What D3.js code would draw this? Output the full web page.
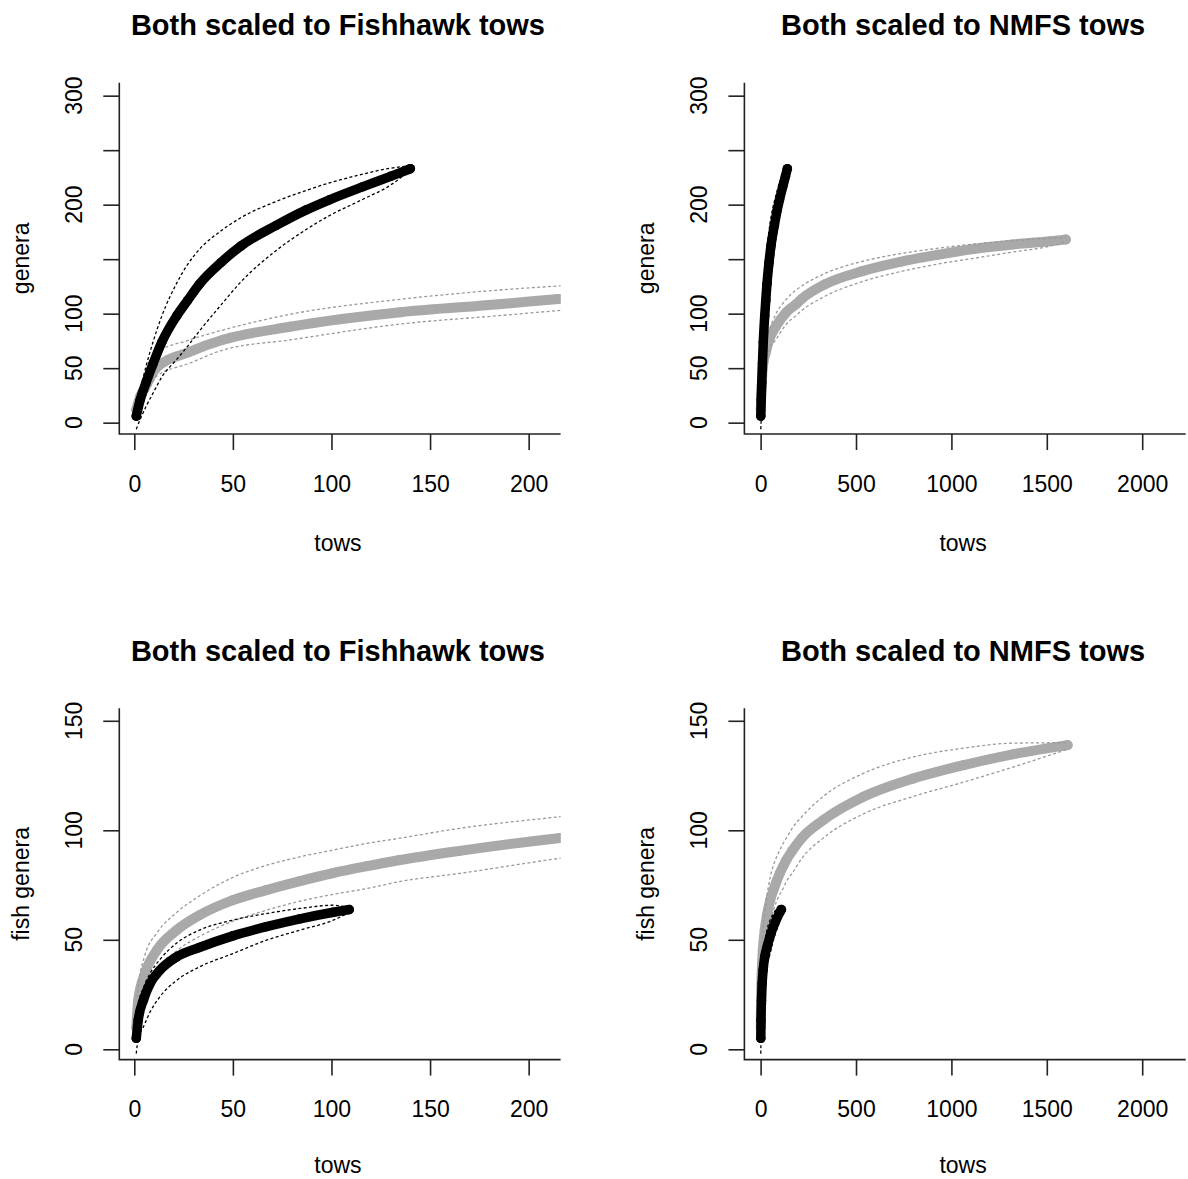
<!DOCTYPE html>
<html><head><meta charset="utf-8">
<script src="https://cdn.jsdelivr.net/npm/d3@7/dist/d3.min.js"></script>
<style>
body{margin:0;background:#fff}
svg{display:block}
text{font-family:"Liberation Sans",Arial,Helvetica,sans-serif;fill:#000}
</style>
</head><body>
<svg id="chart" width="1188" height="1179"></svg>
<script>
// ---------- data ----------
const panelTitles = ["Both scaled to Fishhawk tows", "Both scaled to NMFS tows"];
const rowYLabels = ["genera", "fish genera"];
const xAxisLabel = "tows";

const xTicksFishhawk = [0, 50, 100, 150, 200];
const xTicksNMFS = [0, 500, 1000, 1500, 2000];
const yTicksGenera = [0, 50, 100, 150, 200, 250, 300];
const yTickLabelsGenera = [0, 50, 100, 200, 300];
const yTicksFish = [0, 50, 100, 150];
const yTickLabelsFish = [0, 50, 100, 150];

// Row 1: all genera — Fishhawk (black)
const fhGeneraTows  = [1, 3, 6, 9.5, 14, 21.5, 27, 33, 44, 54, 72, 87, 99, 116, 130, 140];
const fhGeneraMean  = [6, 21, 37, 54, 74, 98, 112, 127, 147, 162, 181, 195, 204.5, 216.5, 226, 233];
const fhGeneraUpper = [14, 30, 52, 74, 98, 128, 145, 159, 176, 188, 203, 213, 220, 228, 233.5, 235.5];
const fhGeneraLower = [-6, 3, 15, 27, 42, 58, 70, 84, 108, 129, 158, 177, 190, 205, 218, 232];

// Row 1: all genera — NMFS (gray)
const nmGeneraTows  = [1, 3, 6, 11, 28, 45, 79, 135, 185, 215, 338, 534, 731, 928, 1124, 1321, 1517, 1600];
const nmGeneraMean  = [12, 24, 34, 50, 65, 76, 88, 101.3, 108.6, 113.5, 127, 139, 147.5, 154, 159.5, 163.5, 166.5, 168];
const nmGeneraUpper = [18, 32, 43, 63.7, 75.9, 85, 99.4, 113.2, 121.7, 125.4, 137, 148, 155, 160, 164, 167, 169, 169.5];
const nmGeneraLower = [6, 16, 25, 42.2, 54.5, 66.7, 75.9, 90.5, 98.2, 102.8, 116, 129.5, 138.5, 145.5, 151, 156.5, 162, 166];

// Row 2: fish genera — Fishhawk (black)
const fhFishTows  = [1, 2, 4.6, 8, 13, 21.5, 33, 50, 67, 84, 101, 109];
const fhFishMean  = [5, 13.3, 22.4, 30, 36.1, 42.2, 46.5, 51.8, 56, 59.6, 62.6, 63.8];
const fhFishUpper = [9, 20, 28, 34.6, 41, 48.5, 54.4, 59, 62, 64.3, 65.8, 64.5];
const fhFishLower = [-2, 5, 10.2, 17, 24, 31.5, 37.6, 43.7, 49.8, 54.4, 59, 62.5];

// Row 2: fish genera — NMFS (gray)
const nmFishTows  = [1, 2, 5.4, 11.4, 21.5, 33, 50, 67, 84, 101, 118, 134, 165, 216, 329, 539, 802, 1065, 1328, 1609];
const nmFishMean  = [10, 22.4, 34.6, 45.2, 54.4, 61.2, 68.1, 72.7, 76.8, 80.5, 83.6, 86.3, 90.6, 96.5, 104.7, 115.3, 123.7, 129.8, 134.8, 138.9];
const nmFishUpper = [16, 28, 43, 53, 62.5, 70, 78.5, 84, 87.9, 91, 94, 96.3, 100.9, 106.2, 115.5, 126, 133.5, 137.5, 139.8, 140];
const nmFishLower = [5, 12, 25, 36.1, 45, 51.5, 58.5, 63.5, 67.6, 70.8, 73.4, 76.5, 80.3, 87.2, 96.5, 107.5, 115.5, 122, 129, 137];

// ---------- layout ----------
const svg = d3.select("#chart");
const colLeft = [119.3, 744.4], colWidth = 441.3;
const rowTop = [82.7, 708.3], rowHeight = 351.3;
const xDomains = [[-7.6, 216.2], [-85, 2228]];
const yDomains = [[-10.4, 311.9], [-4.7, 155.7]];
const xTickSets = [xTicksFishhawk, xTicksNMFS];
const yTickSets = [yTicksGenera, yTicksFish];
const yLabelSets = [yTickLabelsGenera, yTickLabelsFish];
const xTitleOffset = [117, 113];
const rowSeries = [
  {black: [fhGeneraTows, fhGeneraMean, fhGeneraUpper, fhGeneraLower],
   gray:  [nmGeneraTows, nmGeneraMean, nmGeneraUpper, nmGeneraLower]},
  {black: [fhFishTows, fhFishMean, fhFishUpper, fhFishLower],
   gray:  [nmFishTows, nmFishMean, nmFishUpper, nmFishLower]}
];

const GRAY = "#a9a9a9", GRAY_CI = "#9a9a9a";
const tickFont = 23, labFont = 23, titleFont = 29;

let clipId = 0;
for (let r = 0; r < 2; r++) {
  for (let c = 0; c < 2; c++) {
    const L = colLeft[c], T = rowTop[r], R = L + colWidth, B = T + rowHeight;
    const x = d3.scaleLinear().domain(xDomains[c]).range([L, R]);
    const y = d3.scaleLinear().domain(yDomains[r]).range([B, T]);
    const g = svg.append("g");
    const id = "clip" + (clipId++);
    svg.append("clipPath").attr("id", id).append("rect")
      .attr("x", L).attr("y", T).attr("width", colWidth).attr("height", rowHeight);
    const plot = g.append("g").attr("clip-path", `url(#${id})`);

    const line = d3.line().x(d => x(d[0])).y(d => y(d[1])).curve(d3.curveMonotoneX);
    const drawSeries = (s, col, ciCol, w) => {
      const [t, m, u, l] = s;
      const mean = d3.zip(t, m);
      plot.append("path").datum(mean).attr("d", line)
        .attr("fill", "none").attr("stroke", col).attr("stroke-width", w)
        .attr("stroke-linecap", "round").attr("stroke-linejoin", "round");
      plot.selectAll(null).data(mean).enter().append("circle")
        .attr("cx", d => x(d[0])).attr("cy", d => y(d[1])).attr("r", w / 2).attr("fill", col);
      [u, l].forEach(b => {
        plot.append("path").datum(d3.zip(t, b)).attr("d", line)
          .attr("fill", "none").attr("stroke", ciCol).attr("stroke-width", 1.3)
          .attr("stroke-dasharray", "3,2.4");
      });
    };
    drawSeries(rowSeries[r].gray, GRAY, GRAY_CI, 10);
    drawSeries(rowSeries[r].black, "#000", "#000", 9.5);

    // L-shaped box
    g.append("path").attr("d", `M${L},${T}V${B}H${Math.min(R, 1188)}`)
      .attr("fill", "none").attr("stroke", "#222").attr("stroke-width", 1.6);

    // x axis ticks + labels
    const xAx = g.append("g").attr("transform", `translate(0,${B})`)
      .call(d3.axisBottom(x).tickValues(xTickSets[c]).tickSize(16).tickPadding(0).tickFormat(d3.format("d")));
    xAx.select(".domain").remove();
    xAx.selectAll(".tick line").attr("stroke", "#222").attr("stroke-width", 1.6);
    xAx.selectAll(".tick text").attr("y", 57.7).attr("dy", null)
      .attr("font-size", tickFont).attr("fill", "#111").attr("font-family", null);

    // y axis ticks
    const yAx = g.append("g").attr("transform", `translate(${L},0)`)
      .call(d3.axisLeft(y).tickValues(yTickSets[r]).tickSize(16).tickFormat(""));
    yAx.select(".domain").remove();
    yAx.selectAll(".tick line").attr("stroke", "#222").attr("stroke-width", 1.6);
    // y tick labels (rotated, only those kept in the reference)
    g.selectAll(null).data(yLabelSets[r]).enter().append("text")
      .attr("transform", d => `translate(${L - 37},${y(d)}) rotate(-90)`)
      .attr("text-anchor", "middle").attr("font-size", tickFont).attr("fill", "#111")
      .text(d => d);

    // axis titles
    g.append("text").attr("x", (L + R) / 2 - 2).attr("y", B + xTitleOffset[r])
      .attr("text-anchor", "middle").attr("font-size", labFont).attr("fill", "#111").text(xAxisLabel);
    g.append("text").attr("transform", `translate(${L - 90},${(T + B) / 2}) rotate(-90)`)
      .attr("text-anchor", "middle").attr("font-size", labFont).attr("fill", "#111").text(rowYLabels[r]);

    // main title
    g.append("text").attr("x", (L + R) / 2 - 2).attr("y", T - 47.5)
      .attr("text-anchor", "middle").attr("font-size", titleFont).attr("font-weight", "bold")
      .text(panelTitles[c]);
  }
}
</script>
</body></html>
